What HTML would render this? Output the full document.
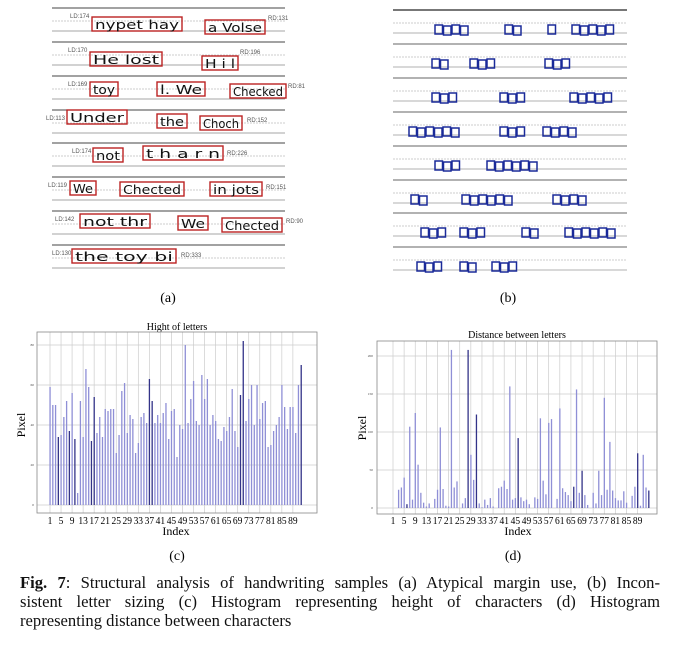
<!DOCTYPE html>
<html><head><meta charset="utf-8"><style>
html,body{margin:0;padding:0;background:#fff;width:680px;height:648px;overflow:hidden}
svg{position:absolute;left:0;top:0}
.cap{position:absolute;left:20px;top:573px;width:640px;font-family:"Liberation Serif",serif;font-size:16.6px;line-height:19px;color:#111}
.cap div{text-align:justify;text-align-last:justify;white-space:nowrap}
.cap div.l{text-align-last:left}
</style></head><body>
<svg id="s" width="680" height="648" xmlns="http://www.w3.org/2000/svg" font-family="Liberation Serif, serif">
<g id="pa"></g><g id="pb"></g>
<text x="168" y="302" font-size="14" text-anchor="middle">(a)</text>
<text x="508" y="302" font-size="14" text-anchor="middle">(b)</text>
<text x="177" y="330" font-size="10" text-anchor="middle">Hight of letters</text>
<g id="gc"></g>
<rect x="37" y="332" width="280" height="181" fill="none" stroke="#888" stroke-width="0.8"/>
<g font-size="3.5" fill="#444" text-anchor="end">
<text x="34" y="506">0</text><text x="34" y="466">20</text><text x="34" y="426">40</text><text x="34" y="386">60</text><text x="34" y="346">80</text></g>
<text font-size="12" transform="translate(25,425) rotate(-90)" text-anchor="middle">Pixel</text>
<text x="176" y="535" font-size="12" text-anchor="middle">Index</text>
<g id="tc" font-size="9.5" text-anchor="middle" transform="translate(0,524) scale(1,1.15) translate(0,-524)"></g>
<text x="177" y="560" font-size="14" text-anchor="middle">(c)</text>
<text x="517" y="338" font-size="10" text-anchor="middle">Distance between letters</text>
<g id="gd"></g>
<rect x="377" y="341" width="280" height="173" fill="none" stroke="#888" stroke-width="0.8"/>
<g font-size="3.5" fill="#444" text-anchor="end">
<text x="373" y="509">0</text><text x="373" y="471">50</text><text x="373" y="433">100</text><text x="373" y="395">150</text><text x="373" y="357">200</text></g>
<text font-size="12" transform="translate(366,428) rotate(-90)" text-anchor="middle">Pixel</text>
<text x="518" y="535" font-size="12" text-anchor="middle">Index</text>
<g id="td" font-size="9.5" text-anchor="middle" transform="translate(0,524) scale(1,1.15) translate(0,-524)"></g>
<text x="513" y="560" font-size="14" text-anchor="middle">(d)</text>
</svg>
<div class="cap"><div><b>Fig. 7</b>: Structural analysis of handwriting samples (a) Atypical margin use, (b) Incon-</div><div>sistent letter sizing (c) Histogram representing height of characters (d) Histogram</div><div class="l">representing distance between characters</div></div>
<script>
var NS="http://www.w3.org/2000/svg";
function el(p,t,a,txt){var e=document.createElementNS(NS,t);for(var k in a)e.setAttribute(k,a[k]);if(txt)e.textContent=txt;document.getElementById(p).appendChild(e);return e;}
var rowsY=[8,42,76,110,143,177,211,245];
rowsY.forEach(function(y){
 el("pa","line",{x1:52,x2:285,y1:y,y2:y,stroke:"#444","stroke-width":1});
 el("pa","line",{x1:52,x2:285,y1:y+13,y2:y+13,stroke:"#999","stroke-width":0.6,"stroke-dasharray":"2,1"});
 el("pa","line",{x1:52,x2:285,y1:y+23,y2:y+23,stroke:"#888","stroke-width":0.7});
});
var A=[
[8,[[92,17,90,"nypet  hay"],[205,20,60,"a  Volse"]],"LD:174",70,"RD:131",268],
[42,[[90,52,72,"He  lost"],[202,56,36,"H i l"]],"LD:170",68,"RD:196",240],
[76,[[90,82,28,"toy"],[157,82,48,"l. We"],[230,84,56,"Checked"]],"LD:169",68,"RD:81",288],
[110,[[67,110,60,"Under"],[157,114,30,"the"],[200,116,42,"Choch"]],"LD:113",46,"RD:152",247],
[143,[[93,148,30,"not"],[143,146,80,"t h a r  n"]],"LD:174",72,"RD:226",227],
[177,[[70,181,26,"We"],[120,182,64,"Chected"],[210,182,52,"in jots"]],"LD:119",48,"RD:151",266],
[211,[[80,214,70,"not  thr"],[178,216,30,"We"],[222,218,60,"Chected"]],"LD:142",55,"RD:90",286],
[245,[[72,249,104,"the  toy  bi"]],"LD:130",52,"RD:333",181]];
A.forEach(function(r){
 el("pa","text",{x:r[3],y:r[0]+10,"font-size":6,fill:"#555","font-family":"Liberation Sans, sans-serif"},r[2]);
 el("pa","text",{x:r[5],y:r[0]+12,"font-size":6,fill:"#555","font-family":"Liberation Sans, sans-serif"},r[4]);
 r[1].forEach(function(w){
  el("pa","rect",{x:w[0],y:w[1],width:w[2],height:14,fill:"none",stroke:"#b22","stroke-width":1.4});
  el("pa","text",{x:w[0]+3,y:w[1]+12,"font-size":12,fill:"#111","font-family":"DejaVu Sans, sans-serif",textLength:w[2]-6,lengthAdjust:"spacingAndGlyphs"},w[3]);
 });
});
var bRows=[10,44,78,112,146,180,213,247];
bRows.forEach(function(y,i){
 el("pb","line",{x1:393,x2:627,y1:y,y2:y,stroke:i==0?"#777":"#666","stroke-width":i==0?2:1});
 el("pb","line",{x1:393,x2:627,y1:y+13,y2:y+13,stroke:"#999","stroke-width":0.6,"stroke-dasharray":"2,1"});
 el("pb","line",{x1:393,x2:627,y1:y+23,y2:y+23,stroke:"#999","stroke-width":0.7});
});
var B=[[[435,4],[505,2],[548,1],[572,5]],[[432,2],[470,3],[545,3]],[[432,3],[500,3],[570,5]],[[409,6],[500,3],[543,4]],[[435,3],[487,6]],[[411,2],[462,6],[553,4]],[[421,3],[460,3],[522,2],[565,6]],[[417,3],[460,2],[492,3]]];
B.forEach(function(row,i){var y=bRows[i]+15;row.forEach(function(g){for(var k=0;k<g[1];k++){el("pb","rect",{x:g[0]+k*8.5,y:y+(k%2),width:7.5,height:9,fill:"none",stroke:"#1a2a99","stroke-width":1.5});}});});
var C=[59,50,50,34,35,44,52,37,56,33,6,52,34,68,59,32,54,36,44,34,48,47,48,48,26,35,57,61,36,45,43,26,31,44,46,41,63,52,41,45,41,46,51,33,47,48,24,40,38,80,41,53,62,42,40,65,53,63,40,45,42,33,32,39,37,44,58,37,29,55,82,42,53,60,40,60,43,51,52,29,30,37,40,44,60,49,38,49,49,36,60,70];
function xc(i){return 50+(i-1)*2.76;}
[0,20,40,60,80].forEach(function(v){var y=505-v*2;el("gc","line",{x1:37,x2:317,y1:y,y2:y,stroke:"#ccc","stroke-width":0.7});});
for(var t=1;t<=89;t+=4){el("gc","line",{x1:xc(t),x2:xc(t),y1:332,y2:513,stroke:"#ccc","stroke-width":0.7});el("tc","text",{x:xc(t),y:524},""+t);}
C.forEach(function(v,i){var x=xc(i+1);var dark=[4,8,10,16,17,37,38,70,71,92].indexOf(i+1)>=0;el("gc","rect",{x:x-0.6,y:505-v*2,width:1.3,height:v*2,fill:dark?"#333388":"#8f8fd6"});});
var D=[0,0,24,27,40,5,107,11,125,57,20,7,2,6,0,12,24,106,25,3,2,208,27,35,0,6,13,208,70,37,123,6,1,11,4,13,2,0,26,28,36,25,160,11,13,92,14,9,11,5,0,14,12,118,36,18,112,117,0,12,131,26,21,17,9,28,156,20,49,17,4,0,20,6,49,17,145,24,87,23,13,10,10,22,7,0,16,28,72,3,70,27,23];
function xd(i){return 393+(i-1)*2.78;}
[0,50,100,150,200].forEach(function(v){var y=508-v*0.76;el("gd","line",{x1:377,x2:657,y1:y,y2:y,stroke:"#ccc","stroke-width":0.7});});
for(var t=1;t<=89;t+=4){el("gd","line",{x1:xd(t),x2:xd(t),y1:341,y2:514,stroke:"#ccc","stroke-width":0.7});el("td","text",{x:xd(t),y:524},""+t);}
D.forEach(function(v,i){if(!v)return;var x=xd(i+1);var dark=[6,28,31,46,66,69,89,93].indexOf(i+1)>=0;el("gd","rect",{x:x-0.6,y:508-v*0.76,width:1.3,height:v*0.76,fill:dark?"#333388":"#8f8fd6"});});
</script>
</body></html>
